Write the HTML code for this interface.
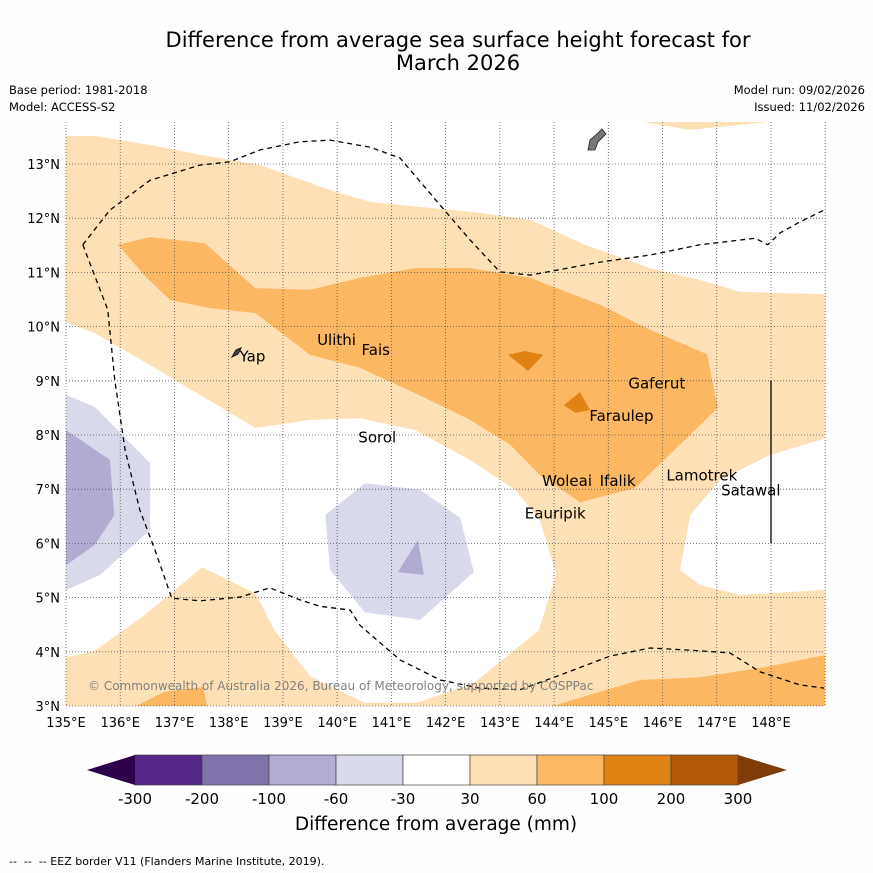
<!DOCTYPE html>
<html><head><meta charset="utf-8"><style>
body{margin:0;background:#fff}
svg{display:block;font-family:"DejaVu Sans","Liberation Sans",sans-serif}
</style></head><body>
<svg id="c" width="873" height="873" viewBox="0 0 873 873">
<rect width="873" height="873" fill="#fefefe"/>
<text x="458" y="47" font-size="21" text-anchor="middle">Difference from average sea surface height forecast for</text>
<text x="458" y="70" font-size="21" text-anchor="middle">March 2026</text>
<text x="9" y="94" font-size="11.5">Base period: 1981-2018</text>
<text x="9" y="111" font-size="11.5">Model: ACCESS-S2</text>
<text x="865" y="94" font-size="11.5" text-anchor="end">Model run: 09/02/2026</text>
<text x="865" y="111" font-size="11.5" text-anchor="end">Issued: 11/02/2026</text>
<defs><clipPath id="mc"><rect x="66" y="122" width="759" height="584"/></clipPath></defs>
<g id="map" clip-path="url(#mc)"></g>
<g id="grid"></g>
<g id="ov"></g>
<text x="88" y="690" font-size="12" fill="#808080">© Commonwealth of Australia 2026, Bureau of Meteorology, supported by COSPPac</text>
<g id="leg"></g>
<text x="436" y="830" font-size="18.5" text-anchor="middle">Difference from average (mm)</text>
<text x="9" y="865" font-size="11">-- &#160;-- &#160;-- EEZ border V11 (Flanders Marine Institute, 2019).</text>
</svg>
<script>
const lonTicks=[135,136,137,138,139,140,141,142,143,144,145,146,147,148];
const latTicks=[3,4,5,6,7,8,9,10,11,12,13];
const legendLabels=["-300","-200","-100","-60","-30","30","60","100","200","300"];
const legendColors=["#542788","#8073ac","#b2abd2","#d8daeb","#ffffff","#fee0b6","#fdb863","#e08214","#b35806"];
const lightOrange=[[135,13.52],[135.53,13.52],[136.55,13.35],[137.47,13.17],[138.58,12.98],[139.87,12.52],[140.61,12.30],[141.71,12.19],[142.63,12.10],[143.56,11.97],[144.57,11.51],[145.77,11.08],[146.69,10.86],[147.43,10.64],[149,10.6],[149,2.9],[135,2.9]];
const topPatch=[[145.68,13.9],[145.68,13.77],[146.51,13.63],[147.89,13.77],[147.89,13.9]];
const whiteLeft=[[135,10.08],[135.53,9.88],[136.55,9.29],[137.47,8.74],[138.49,8.13],[139.5,8.28],[140.42,8.31],[141.44,8.09],[142.45,7.54],[143.28,6.99],[143.74,6.43],[144.04,5.44],[143.72,4.4],[142.52,3.42],[141.47,3.06],[140.5,3.06],[139.5,3.55],[138.84,4.4],[138.5,5.07],[137.51,5.56],[136.48,4.7],[135.52,4.01],[135,3.9]];
const whiteRight=[[149,7.94],[147.98,7.63],[147.06,7.17],[146.51,6.52],[146.32,5.51],[146.69,5.23],[147.43,5.05],[149,5.14]];
const medMain=[[135.96,11.51],[136.55,11.65],[137.56,11.54],[138.49,10.71],[139.5,10.68],[140.42,10.9],[141.44,11.08],[142.45,11.08],[143.56,10.9],[144.85,10.4],[145.77,9.94],[146.82,9.49],[147.02,8.5],[146.32,7.82],[145.49,7.02],[144.48,6.76],[143.74,7.26],[143.19,7.82],[142.45,8.28],[141.9,8.55],[141.44,8.77],[140.42,9.24],[139.5,9.48],[138.49,10.25],[137.66,10.34],[136.92,10.49],[136.46,10.93]];
const medBL=[[136.1,2.9],[136.81,3.26],[137.53,3.35],[137.62,2.9]];
const medBR=[[143.65,2.9],[144.57,3.18],[145.58,3.48],[146.69,3.53],[147.8,3.7],[149,3.94],[149,2.9]];
const dark1=[[143.15,9.48],[143.46,9.55],[143.8,9.48],[143.52,9.18]];
const dark2=[[144.18,8.55],[144.48,8.79],[144.66,8.46],[144.39,8.41]];
const lavC=[[139.78,6.52],[140.51,7.11],[141.53,6.99],[142.27,6.47],[142.52,5.47],[141.53,4.59],[140.51,4.73],[139.87,5.51]];
const purC=[[141.12,5.47],[141.49,6.06],[141.6,5.42]];
const lavL=[[135,8.74],[135.53,8.52],[136.55,7.48],[136.55,6.25],[135.63,5.42],[135,5.14]];
const purL=[[135,8.09],[135.81,7.54],[135.89,6.52],[135.53,5.97],[135,5.6]];
const eez1=[[135.31,11.51],[135.81,12.15],[136.55,12.7],[137.47,12.98],[138.02,13.04],[138.58,13.26],[139.31,13.41],[139.87,13.44],[140.61,13.31],[141.16,13.11],[141.9,12.24],[142.45,11.6],[143,11.01],[143.56,10.95],[144.85,11.19],[145.77,11.32],[146.69,11.51],[147.71,11.63],[147.94,11.51],[148.17,11.73],[148.53,11.93],[148.98,12.15]];
const eez2=[[135.31,11.51],[135.77,10.31],[135.9,9.01],[136.09,7.72],[136.36,6.62],[136.64,5.88],[136.95,4.99],[137.47,4.94],[138.21,5.01],[138.76,5.18],[139.31,4.96],[139.68,4.84],[140.24,4.77],[140.42,4.49],[141.16,3.85],[141.9,3.48],[142.63,3.33],[143.37,3.3],[144.11,3.57],[145.03,3.92],[145.77,4.07],[146.51,4.03],[147.24,3.98],[147.8,3.63],[148.53,3.39],[148.98,3.33]];
const boundary=[[148,9],[148,6]];
const islands=[["Yap",138.2,9.45],["Ulithi",139.63,9.75],["Fais",140.45,9.57],["Gaferut",145.37,8.95],["Faraulep",144.65,8.35],["Sorol",140.39,7.95],["Woleai",143.78,7.15],["Ifalik",144.84,7.15],["Lamotrek",146.07,7.25],["Satawal",147.08,6.98],["Eauripik",143.46,6.55]];
const NS="http://www.w3.org/2000/svg";
const X=lon=>66+(lon-135)*54.23, Y=lat=>164+(13-lat)*54.2;
function mk(t,a,p){const e=document.createElementNS(NS,t);for(const k in a)e.setAttribute(k,a[k]);p.appendChild(e);return e;}
const map=document.getElementById('map'),grid=document.getElementById('grid'),ov=document.getElementById('ov'),leg=document.getElementById('leg');
mk('rect',{x:66,y:122,width:759,height:584,fill:'#ffffff'},map);
function poly(d,fill,name){const e=mk('polygon',{points:d.map(p=>X(p[0])+','+Y(p[1])).join(' '),fill:fill},map);

}
poly(lightOrange,'#fde0b6','contour-30-60');poly(topPatch,'#fde0b6','contour-30-60-top');
poly(whiteLeft,'#ffffff','contour-neutral-west');poly(whiteRight,'#ffffff','contour-neutral-east');
poly(medMain,'#fbb761','contour-60-100');poly(medBL,'#fbb761','contour-60-100-sw');poly(medBR,'#fbb761','contour-60-100-se');
poly(dark1,'#e08214','contour-100-200-a');poly(dark2,'#e08214','contour-100-200-b');
poly(lavC,'#d8d9ea','contour-neg30-60-centre');poly(purC,'#b1abd2','contour-neg60-100-centre');
poly(lavL,'#d8d9ea','contour-neg30-60-west');poly(purL,'#b1abd2','contour-neg60-100-west');
lonTicks.forEach(l=>{const x=X(l);mk('line',{x1:x,x2:x,y1:122,y2:706,stroke:'#555','stroke-width':0.8,'stroke-dasharray':'1 2'},grid);
const t=mk('text',{x:x,y:727,'font-size':13,'text-anchor':'middle'},grid);t.textContent=l+'°E';

});
mk('line',{x1:X(149),x2:X(149),y1:122,y2:706,stroke:'#555','stroke-width':0.8,'stroke-dasharray':'1 2'},grid);
latTicks.forEach(l=>{const y=Y(l);mk('line',{x1:66,x2:825,y1:y,y2:y,stroke:'#555','stroke-width':0.8,'stroke-dasharray':'1 2'},grid);
const t=mk('text',{x:60,y:y+5,'font-size':13,'text-anchor':'end'},grid);t.textContent=l+'°N';

});
function line(d,dash,name){const e=mk('polyline',{points:d.map(p=>X(p[0])+','+Y(p[1])).join(' '),fill:'none',stroke:'#000','stroke-width':1.3,'stroke-dasharray':dash},ov);

}
line(eez1,'5 4','eez-border-north');line(eez2,'5 4','eez-border-west-south');line(boundary,'none','boundary-line');
const g=mk('polygon',{points:'588,150 590,140 598,133 602,129 606,134 598,142 595,150',fill:'#777',stroke:'#222','stroke-width':0.8},ov);


const yp=mk('polygon',{points:'232,357 236,350 241,348 238,354',fill:'#444',stroke:'#111','stroke-width':1},ov);


islands.forEach(s=>{const t=mk('text',{x:X(s[1]),y:Y(s[2])+5,'font-size':15},ov);t.textContent=s[0];

});
const bx=135,bw=67,by=755,bh=30;
legendColors.forEach((c,i)=>{const r=mk('rect',{x:bx+i*bw,y:by,width:bw,height:bh,fill:c,stroke:'#444','stroke-width':0.7},leg);

});
const t1=mk('polygon',{points:`${bx},${by} 87,${by+15} ${bx},${by+bh}`,fill:'#2d004b'},leg);


const t2=mk('polygon',{points:`${bx+9*bw},${by} 787,${by+15} ${bx+9*bw},${by+bh}`,fill:'#7f3b08'},leg);


legendLabels.forEach((l,i)=>{const t=mk('text',{x:bx+i*bw,y:804,'font-size':15,'text-anchor':'middle'},leg);t.textContent=l;

});
</script>
</body></html>
